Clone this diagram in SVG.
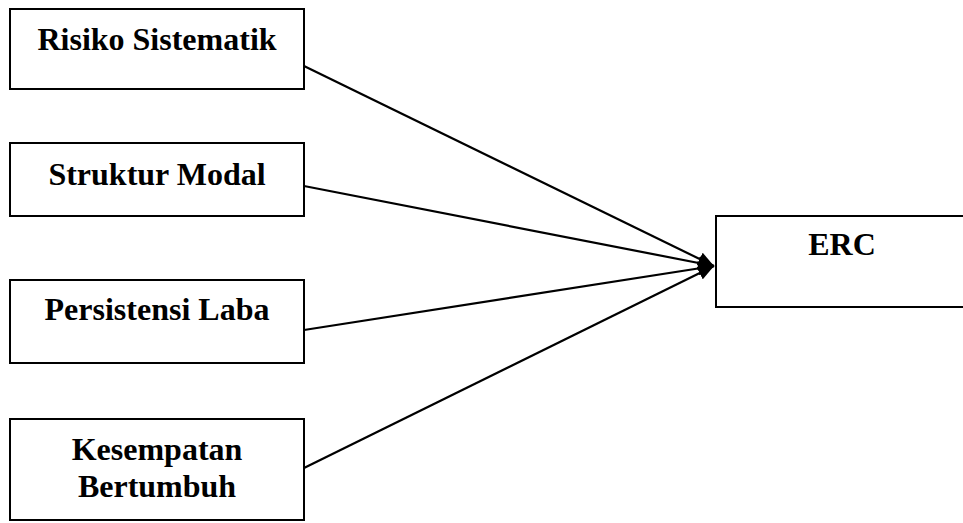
<svg xmlns="http://www.w3.org/2000/svg" width="963" height="523" viewBox="0 0 963 523">
<style>
.box{fill:#fff;stroke:#000;stroke-width:2}
.t{font-family:"Liberation Serif","Times New Roman",serif;font-weight:bold;font-size:32px;fill:#000;text-anchor:middle}
.c{stroke:#000;stroke-width:2.2;fill:none;marker-end:url(#ah)}
</style>
<defs>
<marker id="ah" markerUnits="userSpaceOnUse" markerWidth="17" markerHeight="14" refX="16" refY="7" orient="auto">
<path d="M0,0 L16,7 L0,14 Z" fill="#000"/>
</marker>
</defs>
<rect width="963" height="523" fill="#fff"/>
<g id="connectors">
<line class="c" x1="304" y1="66" x2="714" y2="266"/>
<line class="c" x1="304" y1="186" x2="714" y2="266"/>
<line class="c" x1="304" y1="330" x2="714" y2="266"/>
<line class="c" x1="304" y1="468" x2="714" y2="266"/>
</g>
<g id="risiko">
<rect class="box" x="10" y="9" width="294" height="80"/>
<text class="t" x="157" y="50">Risiko Sistematik</text>
</g>
<g id="struktur">
<rect class="box" x="10" y="143" width="294" height="73"/>
<text class="t" x="157" y="185">Struktur Modal</text>
</g>
<g id="persistensi">
<rect class="box" x="10" y="280" width="294" height="83"/>
<text class="t" x="157" y="320">Persistensi Laba</text>
</g>
<g id="kesempatan">
<rect class="box" x="10" y="419" width="294" height="101"/>
<text class="t" x="157" y="460">Kesempatan</text>
<text class="t" x="157" y="497">Bertumbuh</text>
</g>
<g id="erc">
<rect class="box" x="716" y="216" width="250" height="91"/>
<text class="t" x="842" y="255">ERC</text>
</g>
</svg>
